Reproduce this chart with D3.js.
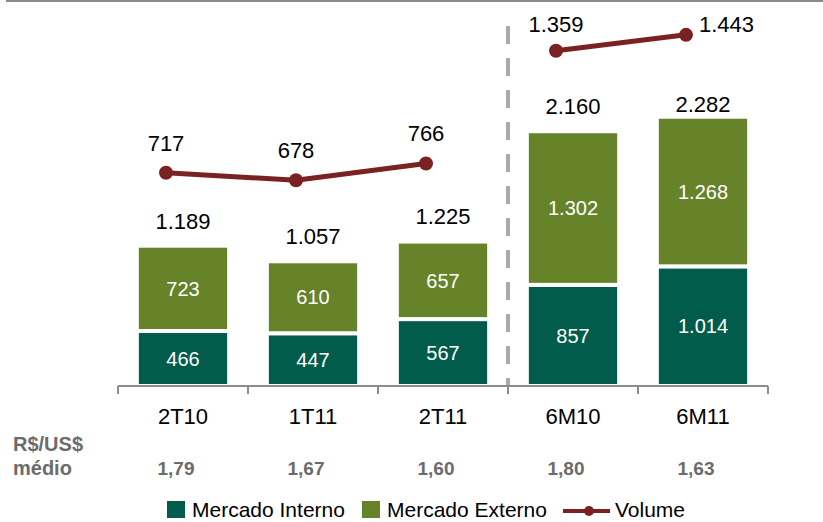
<!DOCTYPE html>
<html>
<head>
<meta charset="utf-8">
<script src="https://d3js.org/d3.v7.min.js"></script>
<style>
body { margin: 0; background: #fff; }
svg { display: block; font-family: "Liberation Sans", Arial, sans-serif; }
.axis path, .axis line { stroke: #8c8c8c; stroke-width: 2; }
</style>
</head>
<body>
<script>
// data
var categories = ["2T10", "1T11", "2T11", "6M10", "6M11"];
var interno = [466, 447, 567, 857, 1014];
var externo = [723, 610, 657, 1302, 1268];
var totals = [1189, 1057, 1225, 2160, 2282];
var volume = [717, 678, 766, 1359, 1443];
var cambio = [1.79, 1.67, 1.60, 1.80, 1.63];
var seriesNames = ["Mercado Interno", "Mercado Externo", "Volume"];

var width = 823, height = 522;
var teal = "#015c4c", olive = "#66832a", maroon = "#7a2222";

var br = d3.formatLocale({decimal: ",", thousands: ".", grouping: [3], currency: ["R$", ""]});
var fmtInt = br.format(",d"), fmtDec = br.format(".2f");

var svg = d3.select("body").append("svg")
    .attr("width", width)
    .attr("height", height);

// thin frame line on top
svg.append("rect").attr("x", 6).attr("y", 0).attr("width", width - 6).attr("height", 2).attr("fill", "#8a8a8a");

var x = d3.scaleBand().domain(categories).range([118, 768]).paddingInner(0.29).paddingOuter(0.145);
var yBar = d3.scaleLinear().domain([0, 2500]).range([386, 91]);
var yVol = d3.scaleLinear().domain([0, 1500]).range([309, 24]);

var data = categories.map(function(c, i) {
  return {cat: c, interno: interno[i], externo: externo[i], total: totals[i], vol: volume[i], fx: cambio[i]};
});

// dashed separator between quarters and semesters
var sepX = x("6M10") - x.step() * 0.145;
svg.append("line")
    .attr("x1", sepX).attr("x2", sepX)
    .attr("y1", 26).attr("y2", 386)
    .attr("stroke", "#aaaaaa").attr("stroke-width", 4)
    .attr("stroke-dasharray", "18,14");

// stacked bars
var stack = d3.stack().keys(["interno", "externo"])(data);
var colors = [teal, olive];
stack.forEach(function(layer, li) {
  var g = svg.append("g");
  g.selectAll("rect").data(layer).enter().append("rect")
    .attr("x", function(d) { return x(d.data.cat); })
    .attr("y", function(d) { return yBar(d[1]); })
    .attr("width", x.bandwidth())
    .attr("height", function(d) { return yBar(d[0]) - yBar(d[1]); })
    .attr("fill", colors[li])
    .attr("stroke", "#fff")
    .attr("stroke-width", 4);
  g.selectAll("text").data(layer).enter().append("text")
    .attr("x", function(d) { return x(d.data.cat) + x.bandwidth() / 2; })
    .attr("y", function(d) { return (yBar(d[0]) + yBar(d[1])) / 2; })
    .attr("dy", "0.36em")
    .attr("text-anchor", "middle")
    .attr("fill", "#fff")
    .attr("font-size", "20px")
    .text(function(d) { return fmtInt(d[1] - d[0]); });
});

// totals above bars
svg.append("g").selectAll("text").data(data).enter().append("text")
    .attr("x", function(d) { return x(d.cat) + x.bandwidth() / 2; })
    .attr("y", function(d) { return Math.max(yBar(d.total) - 17, 112); })
    .attr("text-anchor", "middle")
    .attr("font-size", "22px")
    .attr("fill", "#000")
    .text(function(d) { return fmtInt(d.total); });

// axis
var axis = svg.append("g")
    .attr("class", "axis")
    .attr("transform", "translate(0,386)")
    .call(d3.axisBottom(x).tickSize(0).tickFormat(""));
axis.select(".domain").attr("d", "M118,0H768");
axis.selectAll(".tick").remove();
axis.selectAll("line.sep").data(d3.range(categories.length + 1)).enter().append("line")
    .attr("class", "sep")
    .attr("x1", function(i) { return 118 + i * x.step(); })
    .attr("x2", function(i) { return 118 + i * x.step(); })
    .attr("y1", 0).attr("y2", 8);

// category labels
svg.append("g").selectAll("text").data(data).enter().append("text")
    .attr("x", function(d) { return x(d.cat) + x.bandwidth() / 2; })
    .attr("y", 424)
    .attr("text-anchor", "middle")
    .attr("font-size", "22px")
    .attr("fill", "#000")
    .text(function(d) { return d.cat; });

// exchange rate row
svg.append("text").attr("x", 13).attr("y", 451)
    .attr("font-size", "20px").attr("font-weight", "bold").attr("fill", "#6b6b6b")
    .text("R$/US$");
svg.append("text").attr("x", 13).attr("y", 475)
    .attr("font-size", "20px").attr("font-weight", "bold").attr("fill", "#6b6b6b")
    .text("médio");
svg.append("g").selectAll("text").data(data).enter().append("text")
    .attr("x", function(d) { return x(d.cat) + x.bandwidth() / 2 - 7; })
    .attr("y", 475)
    .attr("text-anchor", "middle")
    .attr("font-size", "19px").attr("font-weight", "bold").attr("fill", "#6b6b6b")
    .text(function(d) { return fmtDec(d.fx); });

// volume line (two segments: quarters and semesters)
var lineX = function(d) { return x(d.cat) + x.bandwidth() / 2 - 17; };
var line = d3.line().x(lineX).y(function(d) { return yVol(d.vol); });
[data.slice(0, 3), data.slice(3)].forEach(function(seg) {
  svg.append("path").datum(seg)
    .attr("d", line)
    .attr("fill", "none")
    .attr("stroke", maroon)
    .attr("stroke-width", 5);
});
svg.append("g").selectAll("circle").data(data).enter().append("circle")
    .attr("cx", lineX)
    .attr("cy", function(d) { return yVol(d.vol); })
    .attr("r", 7)
    .attr("fill", maroon);
svg.append("g").selectAll("text").data(data).enter().append("text")
    .attr("x", function(d, i) { return i === data.length - 1 ? lineX(d) + 13 : lineX(d); })
    .attr("y", function(d) { return Math.max(yVol(d.vol) - 22, 32); })
    .attr("text-anchor", function(d, i) { return i === data.length - 1 ? "start" : "middle"; })
    .attr("font-size", "22px")
    .attr("fill", "#000")
    .text(function(d) { return fmtInt(d.vol); });

// legend
var lg = svg.append("g").attr("font-size", "21px").attr("fill", "#000");
lg.append("rect").attr("x", 167).attr("y", 501).attr("width", 18).attr("height", 17).attr("fill", teal);
lg.append("text").attr("x", 192).attr("y", 517).text(seriesNames[0]);
lg.append("rect").attr("x", 362).attr("y", 501).attr("width", 18).attr("height", 17).attr("fill", olive);
lg.append("text").attr("x", 387).attr("y", 517).text(seriesNames[1]);
lg.append("line").attr("x1", 563).attr("x2", 610).attr("y1", 511).attr("y2", 511)
    .attr("stroke", maroon).attr("stroke-width", 4);
lg.append("circle").attr("cx", 589).attr("cy", 511).attr("r", 5).attr("fill", maroon);
lg.append("text").attr("x", 615).attr("y", 517).text(seriesNames[2]);
</script>
</body>
</html>
